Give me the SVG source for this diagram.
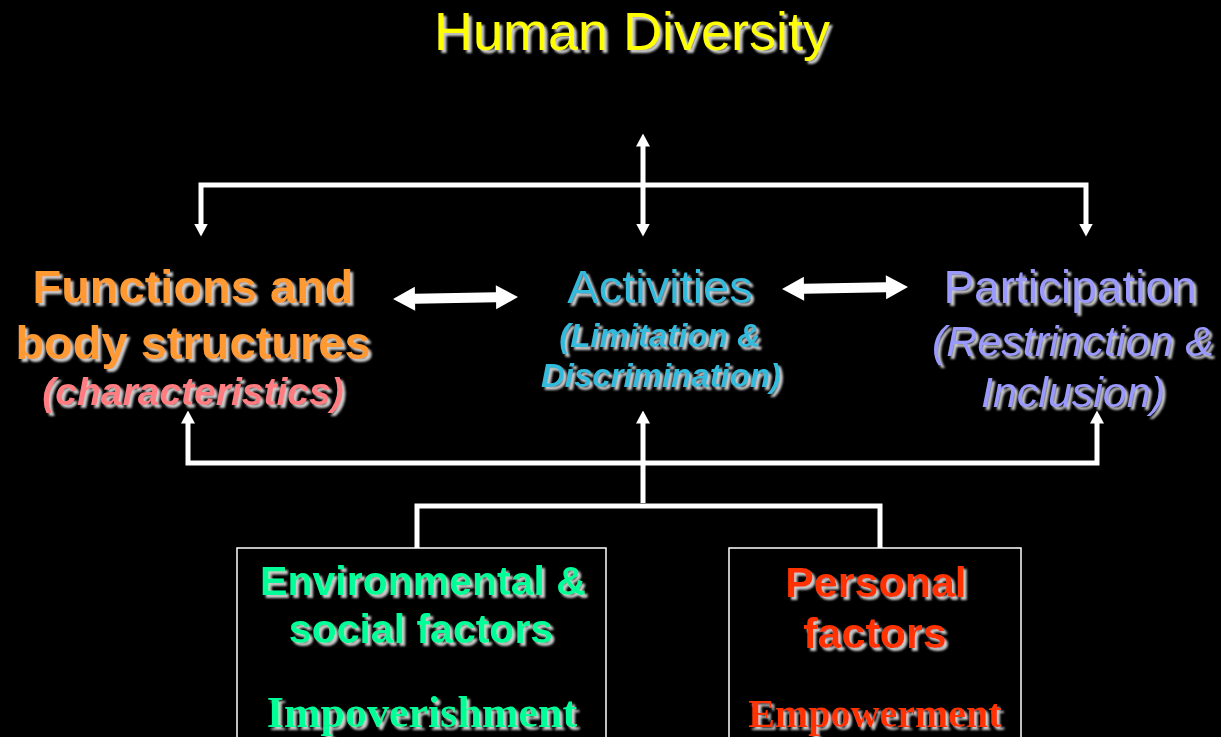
<svg xmlns="http://www.w3.org/2000/svg" width="1221" height="737" viewBox="0 0 1221 737">
<defs>
<filter id="sh" x="-10%" y="-30%" width="120%" height="160%">
<feDropShadow dx="3" dy="3" stdDeviation="1.3" flood-color="#e0e0e0" flood-opacity="0.9"/>
</filter>
<marker id="ah" viewBox="0 0 13 14" refX="0.5" refY="7" markerWidth="13" markerHeight="14" markerUnits="userSpaceOnUse" orient="auto-start-reverse">
<path d="M0,0 L13,7 L0,14 z" fill="#fff"/>
</marker>
<style>
.t{font-family:"Liberation Sans",Arial,sans-serif;text-anchor:middle}
.b{font-weight:bold}
.i{font-style:italic}
.tm{font-family:"Liberation Serif","Times New Roman",serif;font-weight:bold;text-anchor:middle}
.ln{fill:none;stroke:#fff;stroke-width:5;stroke-linejoin:miter}
.box{fill:#000;stroke:#fff;stroke-width:1.5}
.blk{fill:#fff}
</style>
</defs>
<rect width="1221" height="737" fill="#000"/>

<g id="title" filter="url(#sh)">
<text class="t" x="632" y="50" font-size="54" fill="#ffff00">Human Diversity</text>
</g>

<g id="connectors">
<path class="ln" d="M201,224 V185 H1086 V224" marker-start="url(#ah)" marker-end="url(#ah)"/>
<path class="ln" d="M643,146 V224" marker-start="url(#ah)" marker-end="url(#ah)"/>
<path class="ln" d="M188,423 V463 H1097 V423" marker-start="url(#ah)" marker-end="url(#ah)"/>
<path class="ln" d="M643,503 V423" marker-end="url(#ah)"/>
<path class="ln" d="M417,549 V506 H880 V549"/>
<polygon class="blk" transform="rotate(-0.9 455 298)" points="393,298 415,286 415,293 496,293 496,286 518,298 496,310 496,303 415,303 415,310"/>
<polygon class="blk" transform="rotate(-0.9 845 288)" points="782,288 804,276 804,283 886,283 886,276 908,288 886,300 886,293 804,293 804,300"/>
</g>

<g id="functions" filter="url(#sh)">
<text class="t b" x="193" y="303" font-size="47" fill="#ff9933">Functions and</text>
<text class="t b" x="193" y="359" font-size="47" fill="#ff9933">body structures</text>
<text class="t b i" x="193" y="405" font-size="39" fill="#ff7c80">(characteristics)</text>
</g>

<g id="activities" filter="url(#sh)">
<text class="t" x="660" y="303" font-size="47" fill="#33bbdd">Activities</text>
<text class="t b i" x="660" y="347" font-size="33" fill="#33bbdd">(Limitation &amp;</text>
<text class="t b i" x="661" y="387" font-size="33" fill="#33bbdd">Discrimination)</text>
</g>

<g id="participation" filter="url(#sh)">
<text class="t" x="1070" y="303" font-size="46" fill="#9999ff">Participation</text>
<text class="t i" x="1073" y="356" font-size="43" fill="#9999ff">(Restrinction &amp;</text>
<text class="t i" x="1073" y="407" font-size="43" fill="#9999ff">Inclusion)</text>
</g>

<g id="environmental">
<rect class="box" x="237" y="548" width="369" height="200"/>
<g filter="url(#sh)">
<text class="t b" x="423" y="595" font-size="41" fill="#00ff99">Environmental &amp;</text>
<text class="t b" x="421" y="643" font-size="41" fill="#00ff99">social factors</text>
<text class="tm" x="422" y="727" font-size="44" fill="#00ff99">Impoverishment</text>
</g>
</g>

<g id="personal">
<rect class="box" x="729" y="548" width="292" height="200"/>
<g filter="url(#sh)">
<text class="t b" x="876" y="597" font-size="43" fill="#ff3300">Personal</text>
<text class="t b" x="875" y="648" font-size="43" fill="#ff3300">factors</text>
<text class="tm" x="875" y="727" font-size="40" fill="#ff3300">Empowerment</text>
</g>
</g>
</svg>
